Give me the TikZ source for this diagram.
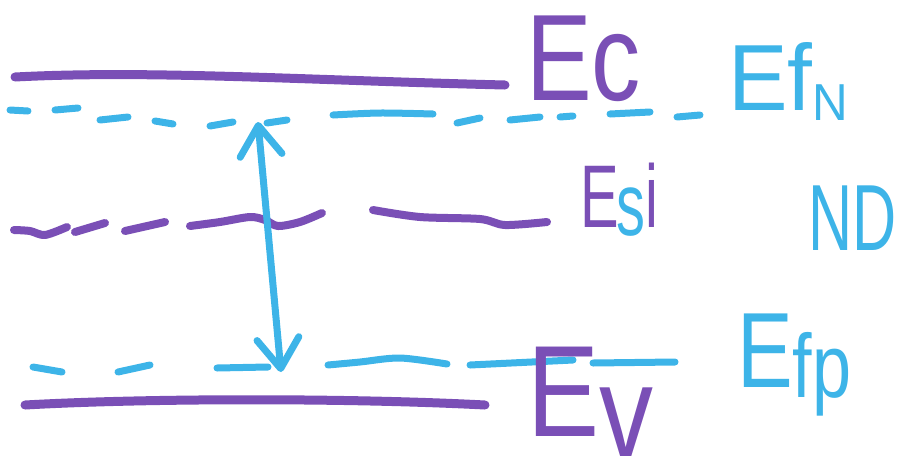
\documentclass[tikz,border=0pt]{standalone}
\usepackage{fontspec}
\setmainfont{Liberation Sans}
\usetikzlibrary{arrows.meta}
\definecolor{purp}{HTML}{7A4FB6}
\definecolor{blu}{HTML}{3DB4E8}
\begin{document}
\begin{tikzpicture}[x=1pt,y=-1pt,
  band/.style={draw=purp,line width=9pt,line cap=round,line join=round},
  pdash/.style={draw=purp,line width=8pt,line cap=round,line join=round},
  bdash/.style={draw=blu,line width=7pt,line cap=round,line join=round},
  arr/.style={draw=blu,line width=7pt,line cap=round,
    {Straight Barb[length=30pt,width=42pt,round]}-{Straight Barb[length=30pt,width=42pt,round]}},
  lbl/.style={inner sep=0pt,anchor=base west,font=\mdseries}]
\useasboundingbox (0,0) rectangle (900,475);

% conduction and valence band edges
\draw[band] (15,77) .. controls (150,70) and (300,80) .. (505,85);
\draw[band] (25,405) .. controls (150,398) and (350,398) .. (485,405);

% EfN dashes
\foreach \a/\b/\c/\d in {10/110/28/111, 55/110/78/108, 100/120/128/117,
  155/121/173/124, 210/126/233/122, 267/123/287/120, 457/123/480/118,
  510/120/540/117, 560/117/573/116, 610/114/650/112, 677/117/700/115}
  \draw[bdash] (\a,\b) -- (\c,\d);
\draw[bdash] plot[smooth] coordinates {(333,115) (380,113) (433,114)};

% Ei dashes
\draw[pdash] plot[smooth] coordinates {(14,230) (30,231) (45,235) (67,227)};
\draw[pdash] (75,232) -- (105,223);
\draw[pdash] (125,231) -- (165,222);
\draw[pdash] plot[smooth] coordinates {(190,226) (220,222) (250,217) (265,220) (278,226) (300,222) (322,213)};
\draw[pdash] plot[smooth] coordinates {(373,210) (420,217) (480,219) (505,225) (547,222)};

% Efp dashes
\draw[bdash] (33,367) -- (62,372);
\draw[bdash] (118,372) -- (150,365);
\draw[bdash] (217,368) -- (268,367);
\draw[bdash] plot[smooth] coordinates {(328,365) (360,362) (400,358) (447,364)};
\draw[bdash] (470,365) -- (573,360);
\draw[bdash] (593,363) -- (675,362);

% double arrow
\coordinate (atop) at (258,122);
\coordinate (abot) at (281,372);
\draw[arr] (atop) -- (abot);

% labels
\node[lbl,text=purp] (ec) at (526,100) {\scalebox{0.8}[1]{\fontsize{123}{123}\selectfont Ec}};
\node[lbl,text=blu] (efn) at (728,110) {\scalebox{0.95}[1]{\fontsize{94}{94}\selectfont Ef\raisebox{-10pt}{\fontsize{52}{52}\selectfont N}}};
\node[lbl] (esi) at (580,227) {\scalebox{0.65}[1]{\fontsize{89}{89}\selectfont\textcolor{purp}{E}\kern-3pt\raisebox{-8pt}{\textcolor{blu}{s}}\textcolor{purp}{i}}};
\node[lbl,text=blu] (nd) at (808,250) {\scalebox{0.65}[1]{\fontsize{94}{94}\selectfont ND}};
\node[lbl,text=blu] (efp) at (737,387) {\scalebox{0.78}[1]{\fontsize{107}{107}\selectfont E\raisebox{-10pt}{\fontsize{90}{90}\selectfont fp}}};
\node[lbl,text=purp] (ev) at (527,436) {\scalebox{0.83}[1]{\fontsize{130}{130}\selectfont E\raisebox{-20pt}{v}}};
\end{tikzpicture}
\end{document}
